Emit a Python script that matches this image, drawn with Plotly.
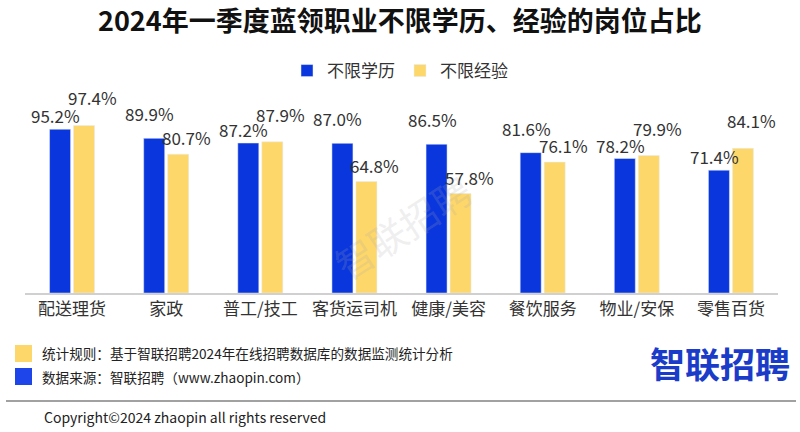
import plotly.graph_objects as go

categories = ["配送理货", "家政", "普工/技工", "客货运司机", "健康/美容", "餐饮服务", "物业/安保", "零售百货"]
edu_values = [95.2, 89.9, 87.2, 87.0, 86.5, 81.6, 78.2, 71.4]
exp_values = [97.4, 80.7, 87.9, 64.8, 57.8, 76.1, 79.9, 84.1]
series_names = ["不限学历", "不限经验"]

BLUE = "#0a36de"
YELLOW = "#fdd76a"
FONT = "Noto Sans CJK SC"
W, H = 800, 432
L, R, T, B = 25, 22, 121, 139

fig = go.Figure()
fig.add_bar(x=categories, y=edu_values, name=series_names[0], marker_color=BLUE)
fig.add_bar(x=categories, y=exp_values, name=series_names[1], marker_color=YELLOW)

annotations = []
for i, c in enumerate(categories):
    b, e = edu_values[i], exp_values[i]
    yellow_high = e >= b
    annotations.append(dict(x=c, y=b, xref="x", yref="y", text=f"{b:.1f}%", showarrow=False,
                            xshift=-13.5 - 3, yshift=(-1 if yellow_high else 10), yanchor="bottom",
                            font=dict(size=17, color="#333333", family=FONT)))
    annotations.append(dict(x=c, y=e, xref="x", yref="y", text=f"{e:.1f}%", showarrow=False,
                            xshift=13.5 + 7, yshift=(13 if yellow_high else 2), yanchor="bottom",
                            font=dict(size=17, color="#333333", family=FONT)))


def note(px, py, text, size, color, xanchor="left", **kw):
    d = dict(text=text, showarrow=False, xanchor=xanchor, yanchor="middle",
             font=dict(size=size, color=color, family=FONT), **kw)
    d["x"] = (px - L) / (W - L - R)
    d["y"] = (H - B - py) / (H - T - B)
    d["xref"] = "paper"
    d["yref"] = "paper"
    return d


annotations.append(note(402, 226, "智联招聘", 38, "rgba(170,170,170,0.2)", xanchor="center", textangle=-33))
annotations.append(note(400, 19, "<b>2024年一季度蓝领职业不限学历、经验的岗位占比</b>", 27, "#111111", xanchor="center"))
annotations.append(note(40, 353, "统计规则：基于智联招聘2024年在线招聘数据库的数据监测统计分析", 13.6, "#222222"))
annotations.append(note(40, 377, "数据来源：智联招聘（www.zhaopin.com）", 13.6, "#222222"))
annotations.append(note(42, 417, "Copyright©2024 zhaopin all rights reserved", 14, "#222222"))
annotations.append(note(792, 362, "<b>智联招聘</b>", 35, "#1a3cc9", xanchor="right"))

pw, ph = W - L - R, H - T - B


def sx(px):
    return (px - L) / pw


def sy(py):
    return (H - B - py) / ph


shapes = [
    dict(type="rect", xref="paper", yref="paper", x0=sx(15), x1=sx(32), y0=sy(362), y1=sy(345),
         fillcolor=YELLOW, line=dict(width=0)),
    dict(type="rect", xref="paper", yref="paper", x0=sx(15), x1=sx(32), y0=sy(385), y1=sy(368),
         fillcolor="#1d45ea", line=dict(width=0)),
    dict(type="line", xref="paper", yref="paper", x0=sx(6), x1=sx(796), y0=sy(401), y1=sy(401),
         line=dict(color="#444444", width=1.2)),
]

fig.update_layout(
    width=W, height=H,
    margin=dict(l=L, r=R, t=T, b=B, autoexpand=False),
    paper_bgcolor="white", plot_bgcolor="white",
    barmode="group", bargap=0.49, bargroupgap=0.125,
    font=dict(family=FONT, color="#333333"),
    legend=dict(orientation="h", x=0.5, xanchor="center", xref="container",
                y=1 - 71 / H, yanchor="middle", yref="container",
                font=dict(size=17, color="#333333", family=FONT), itemwidth=30,
                traceorder="normal"),
    annotations=annotations,
    shapes=shapes,
    showlegend=True,
)
fig.update_xaxes(showline=True, linecolor="#d0d0d0", linewidth=2, ticks="", showgrid=False,
                 tickfont=dict(size=17, color="#333333", family=FONT), fixedrange=True,
                 automargin=False)
fig.update_yaxes(range=[0, 100], visible=False, showgrid=False, fixedrange=True, automargin=False)

fig.write_html("out.html", config={"displayModeBar": False},
               post_script="document.body.style.margin='0';document.body.style.overflow='hidden';")
